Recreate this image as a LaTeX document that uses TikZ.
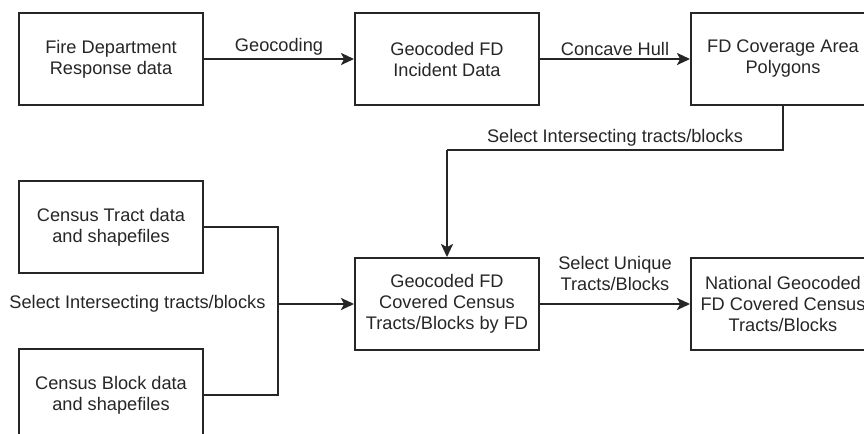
\documentclass[tikz,border=0pt]{standalone}
\usepackage{fontspec}
\setmainfont{Liberation Sans}
\usetikzlibrary{arrows.meta}
\begin{document}
\begin{tikzpicture}[x=0.5pt, y=-0.5pt,
    font=\fontsize{9.1}{10.5}\selectfont,
    line width=0.95pt, draw=black!85, text=black!85,
    box/.style={draw, rectangle, align=center, minimum width=92pt, minimum height=46pt, inner sep=2pt},
    flow/.style={-{Stealth[length=6.5pt, width=6pt, inset=1.5pt]}}]
  \useasboundingbox (0,0) rectangle (864,434);
  % top row
  \node[box] (fdresp) at (111,59) {Fire Department\\Response data};
  \node[box] (fdinc) at (447,59) {Geocoded FD\\Incident Data};
  \node[box] (fdpoly) at (783,59) {FD Coverage Area\\Polygons};
  % census inputs
  \node[box] (tract) at (111,227) {Census Tract data\\and shapefiles};
  \node[box] (block) at (111,395) {Census Block data\\and shapefiles};
  % covered tracts/blocks
  \node[box] (byfd) at (447,304) {Geocoded FD\\Covered Census\\Tracts/Blocks by FD};
  \node[box] (national) at (783,304) {National Geocoded\\FD Covered Census\\Tracts/Blocks};
  % helper points
  \coordinate (bend) at (447,150);
  \coordinate (merge) at (278,304);
  % arrows along the top
  \draw[flow] (fdresp) -- (fdinc) node[midway, above=-2pt] {Geocoding};
  \draw[flow] (fdinc) -- (fdpoly) node[midway, above=-2pt] {Concave Hull};
  % from polygons down to the covered tracts
  \draw (fdpoly.south) |- (bend) node[pos=0.75, above=-2pt] {Select Intersecting tracts/blocks};
  \draw[flow] (bend) -- (byfd.north);
  % census data joined
  \draw (tract.east) -| (merge);
  \draw (block.east) -| (merge);
  \draw[flow] (merge) -- (byfd.west);
  \node[left=2.5pt] (sellbl) at (merge) {Select Intersecting tracts/blocks};
  % unique tracts/blocks
  \draw[flow] (byfd) -- (national) node[midway, above=3pt, align=center] {Select Unique\\Tracts/Blocks};
\end{tikzpicture}
\end{document}
